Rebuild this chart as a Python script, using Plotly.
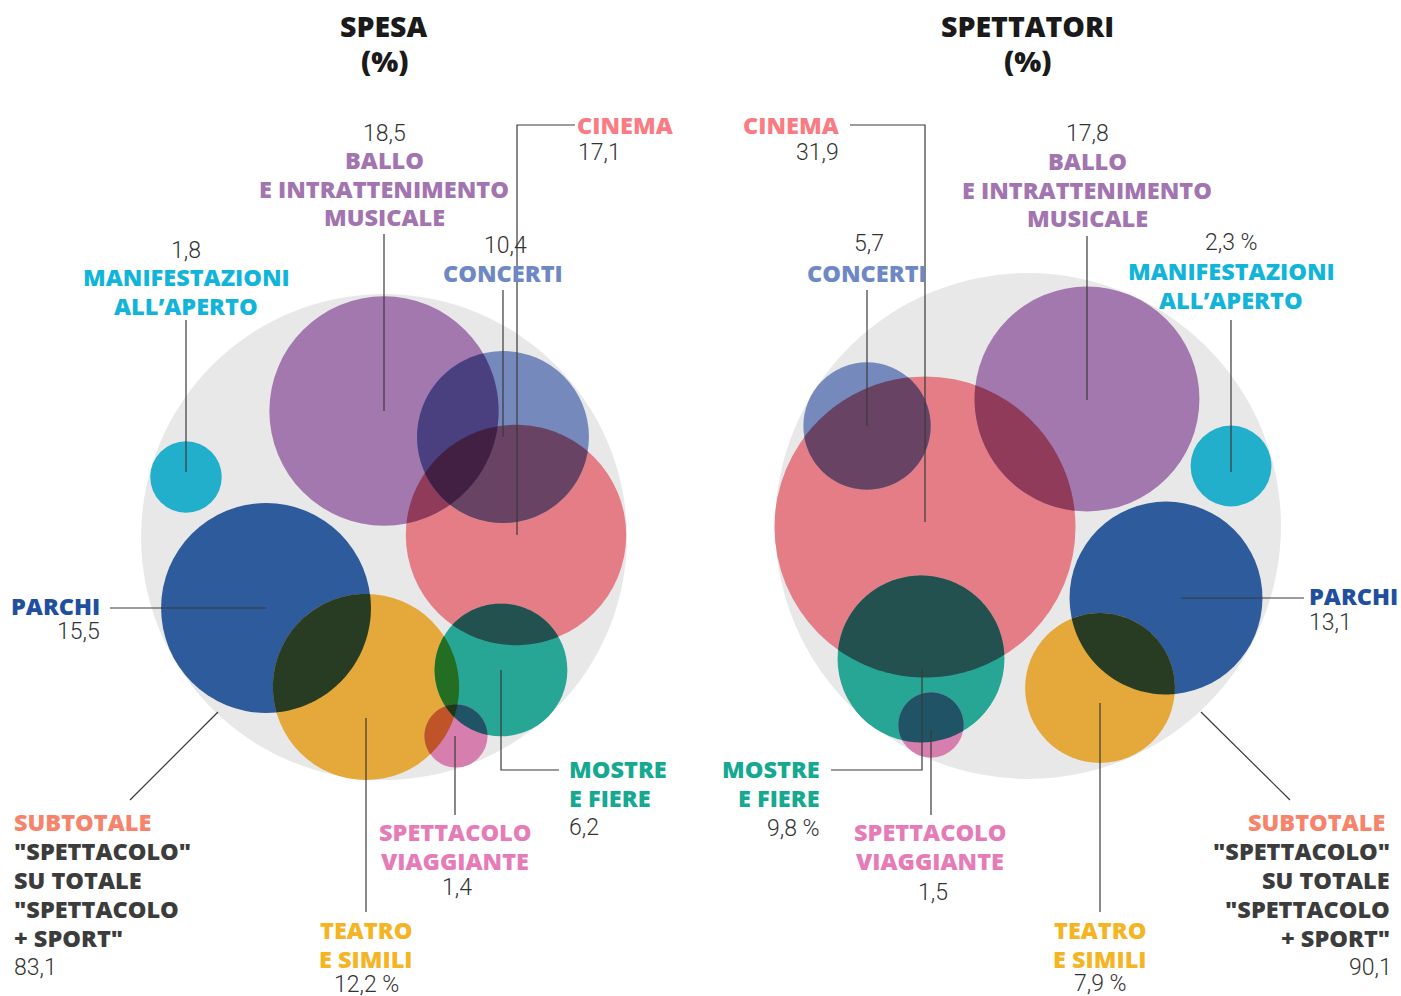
import math
from itertools import combinations
import plotly.graph_objects as go

# ---------------- DATA ----------------
categories = ["Cinema", "Ballo e intrattenimento musicale", "Concerti",
              "Manifestazioni all'aperto", "Parchi", "Teatro e simili",
              "Mostre e fiere", "Spettacolo viaggiante"]
spesa = [17.1, 18.5, 10.4, 1.8, 15.5, 12.2, 6.2, 1.4]
spettatori = [31.9, 17.8, 5.7, 2.3, 13.1, 7.9, 9.8, 1.5]
subtotale = [83.1, 90.1]          # spesa, spettatori
panel_titles = [["SPESA", "(%)"], ["SPETTATORI", "(%)"]]
label_lines = [["CINEMA"], ["BALLO", "E INTRATTENIMENTO", "MUSICALE"], ["CONCERTI"],
               ["MANIFESTAZIONI", "ALL\u2019APERTO"], ["PARCHI"], ["TEATRO", "E SIMILI"],
               ["MOSTRE", "E FIERE"], ["SPETTACOLO", "VIAGGIANTE"]]
subtot_title = "SUBTOTALE"
subtot_lines = ["\"SPETTACOLO\"", "SU TOTALE", "\"SPETTACOLO", "+ SPORT\""]
# values shown with a trailing " %"
pct_suffix = [
    [False, False, False, False, False, True, False, False],
    [False, False, False, True, False, True, True, False],
]

# ---------------- STYLE ----------------
W, H = 1401, 996
K = 26.65  # px radius per sqrt(%)
circle_colors = ["#E47D86", "#A278AE", "#7589BC", "#22AFCB",
                 "#2D5B9B", "#E4A93A", "#27A696", "#D67FAE"]
label_colors = ["#F97C84", "#A274B0", "#6E88C6", "#13B4DA",
                "#1F4F9E", "#F5B423", "#14A990", "#E57CB7"]
gray = "#E8E8E8"
ink = "#333333"
LFONT = "Open Sans"
VFONT = "Roboto"
LSIZE = 23.5
VSIZE = 23
LS = 28.5     # line spacing of label blocks
SUB_LS = 29

# ---------------- LAYOUT POSITIONS (pixels) ----------------
centers = [
    [(516, 535), (384, 411), (503, 437), (186, 477), (266, 608), (366, 687), (501, 670), (456, 736)],
    [(925, 527), (1087, 399), (867, 426), (1231, 466), (1166, 598), (1100, 688), (921, 659), (931, 725)],
]
bg_centers = [(384, 537), (1028, 526)]
title_pos = [(384, 26), (1027, 26)]
TITLE_LS = 35

# label: (x, y of first line, xanchor)   value: (x, y, xanchor)
label_pos = [
    [(575, 125, "left"), (384, 160, "center"), (503, 273, "center"), (186, 277, "center"),
     (102, 606, "right"), (366, 930, "center"), (567, 769, "left"), (455, 832, "center")],
    [(842, 125, "right"), (1087, 161, "center"), (867, 273, "center"), (1231, 271, "center"),
     (1307, 596, "left"), (1100, 930, "center"), (822, 769, "right"), (930, 832, "center")],
]
value_pos = [
    [(576, 152, "left"), (384, 133, "center"), (505, 245, "center"), (186, 250, "center"),
     (102, 631, "right"), (366, 984, "center"), (567, 827, "left"), (457, 887, "center")],
    [(841, 152, "right"), (1087, 133, "center"), (869, 243, "center"), (1231, 242, "center"),
     (1307, 622, "left"), (1100, 983, "center"), (822, 828, "right"), (933, 892, "center")],
]
subtot_pos = [
    dict(title=(12, 822, "left"), body=(12, 851, "left"), value=(12, 967, "left")),
    dict(title=(1387, 822, "right"), body=(1392, 851, "right"), value=(1394, 967, "right")),
]
leaders = [
    [[(575, 125), (517, 125), (517, 535)], [(384, 234), (384, 411)], [(503, 290), (503, 437)],
     [(186, 320), (186, 472)], [(110, 608), (266, 608)], [(366, 718), (366, 912)],
     [(501, 670), (501, 770), (559, 770)], [(455, 736), (455, 815)],
     [(130, 800), (218, 712)]],
    [[(850, 125), (925, 125), (925, 522)], [(1087, 236), (1087, 400)], [(867, 290), (867, 426)],
     [(1231, 320), (1231, 472)], [(1304, 598), (1181, 598)], [(1100, 703), (1100, 912)],
     [(922, 668), (922, 770), (831, 770)], [(931, 730), (931, 815)],
     [(1290, 800), (1201, 712)]],
]


def fmt(v, pct=False):
    s = f"{v:.1f}".replace(".", ",")
    return s + (" %" if pct else "")


def hex2rgb(h):
    h = h.lstrip("#")
    return tuple(int(h[i:i + 2], 16) for i in (0, 2, 4))


def multiply(cols):
    r, g, b = 255.0, 255.0, 255.0
    for c in cols:
        cr, cg, cb = hex2rgb(c)
        r, g, b = r * cr / 255, g * cg / 255, b * cb / 255
    return "#%02X%02X%02X" % (round(r), round(g), round(b))


NPTS = 240


def circle_poly(cx, cy, r):
    return [(cx + r * math.cos(2 * math.pi * k / NPTS), cy + r * math.sin(2 * math.pi * k / NPTS))
            for k in range(NPTS)]


def clip(subject, clipper):
    # Sutherland-Hodgman clipping of a polygon by a convex polygon
    out = subject
    n = len(clipper)
    for i in range(n):
        if not out:
            break
        a = clipper[i]
        b = clipper[(i + 1) % n]
        ex, ey = b[0] - a[0], b[1] - a[1]

        def inside(pt):
            return ex * (pt[1] - a[1]) - ey * (pt[0] - a[0]) >= 0

        def inter(p1, q1):
            x1, y1 = p1
            dx, dy = q1[0] - x1, q1[1] - y1
            c0 = ex * (y1 - a[1]) - ey * (x1 - a[0])
            c1 = ex * dy - ey * dx
            t = -c0 / c1 if c1 else 0
            return (x1 + t * dx, y1 + t * dy)

        inp = out
        out = []
        prev = inp[-1]
        for cur in inp:
            if inside(cur):
                if not inside(prev):
                    out.append(inter(prev, cur))
                out.append(cur)
            elif inside(prev):
                out.append(inter(prev, cur))
            prev = cur
    return out


def area(poly):
    s = 0
    for i in range(len(poly)):
        x1, y1 = poly[i]
        x2, y2 = poly[(i + 1) % len(poly)]
        s += x1 * y2 - x2 * y1
    return abs(s) / 2


fig = go.Figure()
fig.add_trace(go.Scatter(x=[0, W], y=[0, H], mode="markers",
                         marker=dict(opacity=0), hoverinfo="skip", showlegend=False))

shapes = []
annotations = []


def text(x, y, s, color, size, weight, family, anchor):
    annotations.append(dict(x=x, y=y, xref="x", yref="y", text=s, showarrow=False,
                            xanchor=anchor, yanchor="middle", align=anchor,
                            font=dict(family=family, size=size, color=color, weight=weight)))


for p, values in enumerate([spesa, spettatori]):
    # background subtotal circle
    r = K * math.sqrt(subtotale[p])
    cx, cy = bg_centers[p]
    shapes.append(dict(type="circle", xref="x", yref="y", layer="below",
                       x0=cx - r, x1=cx + r, y0=cy - r, y1=cy + r,
                       fillcolor=gray, line=dict(width=0)))
    radii = [K * math.sqrt(v) for v in values]
    # category circles
    for i, rr in enumerate(radii):
        cx, cy = centers[p][i]
        shapes.append(dict(type="circle", xref="x", yref="y", layer="above",
                           x0=cx - rr, x1=cx + rr, y0=cy - rr, y1=cy + rr,
                           fillcolor=circle_colors[i], line=dict(width=0)))
    # overlaps, coloured as multiplied inks
    polys = [circle_poly(centers[p][i][0], centers[p][i][1], radii[i]) for i in range(len(values))]

    def touches(i, j):
        (x1, y1), (x2, y2) = centers[p][i], centers[p][j]
        return math.hypot(x1 - x2, y1 - y2) < radii[i] + radii[j] - 0.5

    for size in (2, 3, 4):
        for combo in combinations(range(len(values)), size):
            if not all(touches(i, j) for i, j in combinations(combo, 2)):
                continue
            poly = polys[combo[0]]
            for j in combo[1:]:
                poly = clip(poly, polys[j])
                if not poly:
                    break
            if len(poly) < 3 or area(poly) < 1:
                continue
            path = "M " + " L ".join(f"{x:.2f},{y:.2f}" for x, y in poly) + " Z"
            shapes.append(dict(type="path", xref="x", yref="y", layer="above", path=path,
                               fillcolor=multiply([circle_colors[k] for k in combo]),
                               line=dict(width=0)))
    # leader lines
    for pts in leaders[p]:
        path = "M " + " L ".join(f"{x},{y}" for x, y in pts)
        shapes.append(dict(type="path", xref="x", yref="y", layer="above", path=path,
                           line=dict(color="#3a3a3a", width=1.2)))
    # title
    tx, ty = title_pos[p]
    for k, s in enumerate(panel_titles[p]):
        text(tx, ty + k * TITLE_LS, s, "#1a1a1a", 28.5, 800, LFONT, "center")
    # labels and values
    for i, v in enumerate(values):
        lx, ly, la = label_pos[p][i]
        for k, s in enumerate(label_lines[i]):
            text(lx, ly + k * LS, s, label_colors[i], LSIZE, 800, LFONT, la)
        vx, vy, va = value_pos[p][i]
        text(vx, vy, fmt(v, pct_suffix[p][i]), ink, VSIZE, 300, VFONT, va)
    sp = subtot_pos[p]
    x, y, a = sp["title"]
    text(x, y, subtot_title, "#F7836B", LSIZE, 800, LFONT, a)
    x, y, a = sp["body"]
    for k, s in enumerate(subtot_lines):
        text(x, y + k * SUB_LS, s, "#3C3C3C", LSIZE, 800, LFONT, a)
    x, y, a = sp["value"]
    text(x, y, fmt(subtotale[p]), ink, VSIZE, 300, VFONT, a)

fig.update_layout(
    width=W, height=H, margin=dict(l=0, r=0, t=0, b=0),
    paper_bgcolor="white", plot_bgcolor="white",
    xaxis=dict(range=[0, W], visible=False, fixedrange=True),
    yaxis=dict(range=[H, 0], visible=False, fixedrange=True),
    shapes=shapes, annotations=annotations, showlegend=False,
)

post = """
var st = document.createElement('style');
st.textContent = 'html,body{margin:0;padding:0;overflow:hidden;}';
document.head.appendChild(st);
"""
fig.write_html("out.html", post_script=post, config={"displayModeBar": False})
